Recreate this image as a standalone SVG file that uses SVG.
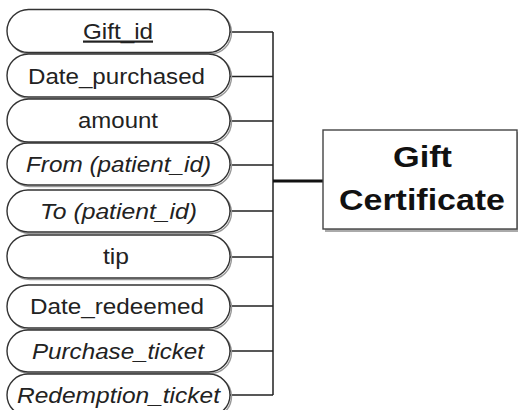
<svg xmlns="http://www.w3.org/2000/svg" width="518" height="410" viewBox="0 0 518 410">
<style>
.attr{fill:#fff;stroke:#333;stroke-width:1.4}
.sh{fill:none;stroke:#999;stroke-width:1.4}
.t{font-family:"Liberation Sans",Arial,sans-serif;font-size:22px;fill:#222;text-anchor:middle}
.i{font-style:italic}
.c{stroke:#222;stroke-width:1.5;fill:none}
.ent{fill:#fff;stroke:#444;stroke-width:1.4}
.et{font-family:"Liberation Sans",Arial,sans-serif;font-size:29px;font-weight:bold;fill:#111;text-anchor:middle}
</style>
<g id="connectors">
<path class="c" d="M230 32H273M230 76.5H273M230 121H273M230 165H273M230 211H273M230 257H273M230 306H273M230 351H273M230 395H273M273 32V395"/>
<path d="M273 181H324" stroke="#111" stroke-width="3"/>
</g>
<g id="gift_id"><rect class="sh" x="8.5" y="11" width="223" height="43" rx="21.5"/><rect class="attr" x="7" y="9.5" width="223" height="43" rx="21.5"/><text class="t" x="118" y="38.5" text-decoration="underline" textLength="70" lengthAdjust="spacingAndGlyphs">Gift_id</text></g>
<g id="date_purchased"><rect class="sh" x="8.5" y="55.5" width="223" height="43" rx="21.5"/><rect class="attr" x="7" y="54" width="223" height="43" rx="21.5"/><text class="t" x="116.5" y="83.5" textLength="177" lengthAdjust="spacingAndGlyphs">Date_purchased</text></g>
<g id="amount"><rect class="sh" x="8.5" y="100.5" width="223" height="43" rx="21.5"/><rect class="attr" x="7" y="99" width="223" height="43" rx="21.5"/><text class="t" x="118" y="128" textLength="80" lengthAdjust="spacingAndGlyphs">amount</text></g>
<g id="from"><rect class="sh" x="8.5" y="144.5" width="223" height="42" rx="21"/><rect class="attr" x="7" y="143" width="223" height="42" rx="21"/><text class="t i" x="118.5" y="171.5" textLength="185" lengthAdjust="spacingAndGlyphs">From (patient_id)</text></g>
<g id="to"><rect class="sh" x="8.5" y="191.5" width="223" height="42" rx="21"/><rect class="attr" x="7" y="190" width="223" height="42" rx="21"/><text class="t i" x="118.5" y="218.5" textLength="157" lengthAdjust="spacingAndGlyphs">To (patient_id)</text></g>
<g id="tip"><rect class="sh" x="8.5" y="236.5" width="223" height="43" rx="21.5"/><rect class="attr" x="7" y="235" width="223" height="43" rx="21.5"/><text class="t" x="116" y="264" textLength="26" lengthAdjust="spacingAndGlyphs">tip</text></g>
<g id="date_redeemed"><rect class="sh" x="8.5" y="286.5" width="223" height="43" rx="21.5"/><rect class="attr" x="7" y="285" width="223" height="43" rx="21.5"/><text class="t" x="117" y="314" textLength="174" lengthAdjust="spacingAndGlyphs">Date_redeemed</text></g>
<g id="purchase_ticket"><rect class="sh" x="8.5" y="331.5" width="223" height="42" rx="21"/><rect class="attr" x="7" y="330" width="223" height="42" rx="21"/><text class="t i" x="118" y="358.5" textLength="172" lengthAdjust="spacingAndGlyphs">Purchase_ticket</text></g>
<g id="redemption_ticket"><rect class="sh" x="8.5" y="375.5" width="223" height="42" rx="21"/><rect class="attr" x="7" y="374" width="223" height="42" rx="21"/><text class="t i" x="118.5" y="402.5" textLength="203" lengthAdjust="spacingAndGlyphs">Redemption_ticket</text></g>
<g id="gift_certificate"><rect x="325" y="132" width="195" height="100" fill="#aaa"/><rect class="ent" x="323" y="130" width="194" height="99"/><text class="et" x="422.5" y="167" textLength="59" lengthAdjust="spacingAndGlyphs">Gift</text><text class="et" x="422" y="210" textLength="166" lengthAdjust="spacingAndGlyphs">Certificate</text></g>
</svg>
